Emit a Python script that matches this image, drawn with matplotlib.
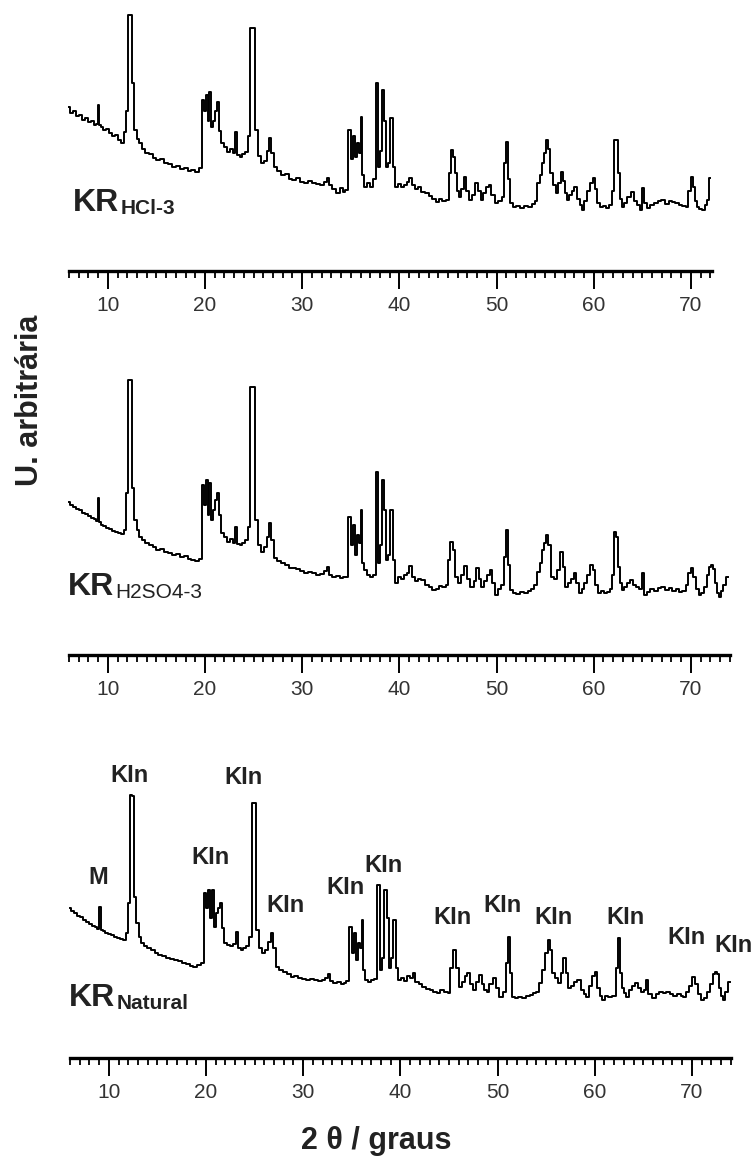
import numpy as np
import matplotlib
matplotlib.use("Agg")
import matplotlib.pyplot as plt
from matplotlib.ticker import MultipleLocator

plt.rcParams['font.family'] = ['Liberation Sans', 'DejaVu Sans']

# Difratogramas (2theta, intensidade em u.a.)
tth_hcl = [6.0, 6.3, 6.6, 6.9, 7.2, 7.5, 7.8, 8.1, 8.4, 8.7, 8.95, 9.05, 9.15, 9.4, 9.7, 10.0, 10.3, 10.6, 10.9, 11.2,
           11.5, 11.8, 12.0, 12.2, 12.4, 12.6, 12.85, 13.1, 13.4, 13.7, 14.0, 14.4, 14.8, 15.2, 15.6, 16.0, 16.4, 16.8,
           17.2, 17.6, 18.0, 18.4, 18.8, 19.2, 19.5, 19.8, 20.0, 20.2, 20.4, 20.5, 20.7, 20.9, 21.1, 21.3, 21.5, 21.8,
           22.1, 22.4, 22.7, 23.0, 23.2, 23.4, 23.7, 24.0, 24.3, 24.55, 24.8, 25.0, 25.25, 25.6, 25.9, 26.2, 26.5, 26.7,
           26.9, 27.2, 27.6, 28.0, 28.4, 28.8, 29.2, 29.6, 30.0, 30.4, 30.8, 31.2, 31.6, 32.0, 32.4, 32.6, 32.9, 33.3,
           33.7, 34.0, 34.3, 34.6, 34.9, 35.1, 35.3, 35.5, 35.7, 35.9, 36.1, 36.3, 36.5, 36.8, 37.1, 37.4, 37.7, 37.9,
           38.1, 38.3, 38.5, 38.7, 38.9, 39.2, 39.5, 39.7, 40.0, 40.3, 40.6, 40.9, 41.1, 41.4, 41.8, 42.1, 42.4, 42.8,
           43.2, 43.6, 43.9, 44.2, 44.6, 45.0, 45.2, 45.4, 45.6, 45.8, 46.0, 46.2, 46.5, 46.7, 47.0, 47.3, 47.6, 48.0,
           48.2, 48.5, 48.8, 49.1, 49.3, 49.6, 50.0, 50.4, 50.7, 50.9, 51.1, 51.3, 51.5, 51.8, 52.2, 52.6, 53.0, 53.4,
           53.8, 54.1, 54.3, 54.6, 54.8, 55.0, 55.2, 55.4, 55.7, 56.0, 56.2, 56.5, 56.7, 56.9, 57.1, 57.3, 57.6, 57.9,
           58.1, 58.4, 58.7, 58.9, 59.2, 59.5, 59.8, 60.0, 60.2, 60.5, 60.8, 61.1, 61.4, 61.7, 62.0, 62.2, 62.4, 62.6,
           62.8, 63.0, 63.3, 63.6, 64.0, 64.3, 64.6, 64.9, 65.1, 65.3, 65.6, 66.0, 66.4, 66.8, 67.1, 67.5, 67.9, 68.2,
           68.6, 68.9, 69.3, 69.6, 69.9, 70.1, 70.3, 70.5, 70.7, 71.0, 71.3, 71.6, 71.8, 72.0]
int_hcl = [164, 158, 160, 155, 156, 151, 153, 149, 150, 146, 147, 166, 146, 144, 141, 142, 138, 135, 136, 131,
           128, 139, 160, 256, 256, 188, 141, 132, 128, 122, 118, 117, 113, 111, 112, 108, 107, 104,
           105, 102, 103, 100, 101, 99, 103, 171, 160, 176, 150, 179, 144, 150, 160, 169, 140, 128,
           124, 119, 122, 118, 139, 116, 114, 117, 119, 135, 243, 243, 141, 115, 108, 110, 120, 133,
           118, 104, 100, 96, 97, 92, 91, 93, 89, 88, 90, 88, 87, 86, 89, 93, 86, 82,
           78, 83, 79, 81, 141, 112, 135, 114, 128, 118, 154, 96, 84, 88, 84, 92, 188, 104,
           120, 181, 150, 104, 108, 153, 104, 84, 87, 84, 86, 89, 93, 86, 82, 84, 79, 78,
           75, 72, 69, 72, 70, 71, 98, 121, 114, 98, 80, 74, 82, 94, 80, 71, 76, 88,
           80, 71, 78, 84, 86, 76, 68, 70, 74, 108, 129, 92, 68, 64, 65, 63, 65, 64,
           67, 70, 88, 96, 108, 118, 131, 122, 98, 86, 78, 88, 99, 90, 78, 71, 76, 80,
           84, 72, 66, 61, 70, 80, 88, 93, 82, 68, 64, 65, 63, 66, 80, 131, 131, 98,
           72, 64, 68, 74, 79, 70, 66, 61, 83, 68, 63, 66, 68, 70, 71, 67, 70, 69,
           68, 66, 65, 64, 80, 94, 84, 70, 64, 62, 61, 66, 71, 93]

tth_h2so4 = [6.0, 6.3, 6.6, 6.9, 7.2, 7.5, 7.8, 8.1, 8.4, 8.7, 8.95, 9.05, 9.15, 9.4, 9.7, 10.0, 10.3, 10.6, 10.9, 11.2,
             11.5, 11.8, 12.0, 12.2, 12.4, 12.6, 12.85, 13.1, 13.4, 13.7, 14.0, 14.4, 14.8, 15.2, 15.6, 16.0, 16.4,
             16.8, 17.2, 17.6, 18.0, 18.4, 18.8, 19.2, 19.5, 19.8, 20.0, 20.2, 20.4, 20.5, 20.7, 20.9, 21.1, 21.3, 21.5,
             21.8, 22.1, 22.4, 22.7, 23.0, 23.2, 23.4, 23.7, 24.0, 24.3, 24.55, 24.8, 25.0, 25.25, 25.6, 25.9, 26.2,
             26.5, 26.7, 26.9, 27.2, 27.6, 28.0, 28.4, 28.8, 29.2, 29.6, 30.0, 30.4, 30.8, 31.2, 31.6, 32.0, 32.4, 32.6,
             32.9, 33.3, 33.7, 34.0, 34.3, 34.6, 34.9, 35.1, 35.3, 35.5, 35.7, 35.9, 36.1, 36.3, 36.5, 36.8, 37.1, 37.4,
             37.7, 37.9, 38.1, 38.3, 38.5, 38.7, 38.9, 39.2, 39.5, 39.7, 40.0, 40.3, 40.6, 40.9, 41.1, 41.4, 41.8, 42.1,
             42.4, 42.8, 43.2, 43.6, 43.9, 44.2, 44.6, 44.9, 45.1, 45.4, 45.6, 45.9, 46.2, 46.5, 46.8, 47.1, 47.5, 47.8,
             48.0, 48.3, 48.6, 48.9, 49.2, 49.4, 49.7, 50.0, 50.3, 50.6, 50.9, 51.1, 51.3, 51.5, 51.8, 52.2, 52.6, 53.0,
             53.4, 53.7, 54.0, 54.3, 54.6, 54.8, 55.0, 55.2, 55.4, 55.8, 56.1, 56.4, 56.7, 56.9, 57.2, 57.5, 57.8, 58.1,
             58.3, 58.6, 58.9, 59.2, 59.5, 59.8, 60.0, 60.3, 60.6, 60.9, 61.2, 61.5, 61.8, 62.0, 62.2, 62.4, 62.6, 62.8,
             63.0, 63.3, 63.6, 63.9, 64.2, 64.5, 64.8, 65.1, 65.3, 65.6, 66.0, 66.4, 66.8, 67.1, 67.5, 67.9, 68.3, 68.6,
             68.9, 69.3, 69.6, 69.9, 70.1, 70.4, 70.7, 70.9, 71.2, 71.5, 71.8, 72.0, 72.2, 72.4, 72.6, 72.8, 73.0, 73.2,
             73.5, 73.8]
int_h2so4 = [153, 150, 148, 146, 145, 142, 141, 139, 137, 136, 134, 157, 133, 130, 129, 127, 126, 124, 123, 122,
             121, 125, 162, 275, 275, 167, 135, 125, 118, 115, 112, 110, 108, 105, 106, 103, 102,
             100, 101, 98, 99, 96, 95, 94, 96, 170, 150, 175, 140, 172, 135, 145, 155, 162, 140,
             122, 118, 113, 116, 112, 128, 111, 110, 112, 115, 128, 268, 268, 135, 110, 103, 108,
             118, 132, 115, 97, 94, 92, 90, 87, 87, 86, 84, 82, 83, 82, 80, 81, 84, 88,
             80, 78, 79, 77, 78, 78, 138, 110, 130, 100, 120, 112, 145, 92, 85, 80, 78, 80,
             183, 92, 110, 175, 145, 95, 100, 145, 95, 72, 78, 76, 80, 82, 89, 78, 74, 76,
             75, 70, 68, 65, 66, 69, 68, 70, 95, 113, 105, 78, 72, 80, 89, 76, 68, 74,
             87, 76, 68, 74, 80, 85, 72, 60, 66, 70, 98, 125, 90, 65, 62, 61, 63, 62,
             64, 66, 70, 83, 92, 105, 112, 120, 110, 78, 76, 85, 103, 88, 68, 72, 76, 82,
             72, 62, 66, 72, 80, 90, 85, 70, 62, 64, 62, 63, 66, 80, 123, 118, 88, 72,
             65, 68, 72, 75, 70, 68, 66, 82, 60, 63, 66, 64, 67, 68, 65, 67, 64, 66,
             63, 64, 70, 82, 87, 78, 66, 60, 62, 68, 80, 88, 90, 86, 72, 62, 58, 64,
             70, 78]

tth_nat = [6.0, 6.3, 6.6, 6.9, 7.2, 7.5, 7.8, 8.1, 8.4, 8.7, 8.95, 9.1, 9.25, 9.5, 9.8, 10.1, 10.4, 10.7, 11.0, 11.3,
           11.6, 11.9, 12.1, 12.3, 12.5, 12.7, 12.95, 13.2, 13.5, 13.8, 14.1, 14.5, 14.9, 15.3, 15.7, 16.1, 16.5,
           16.9, 17.3, 17.7, 18.1, 18.5, 18.9, 19.3, 19.7, 19.9, 20.1, 20.3, 20.5, 20.7, 20.9, 21.1, 21.3, 21.5, 21.7,
           22.0, 22.3, 22.6, 22.9, 23.2, 23.4, 23.7, 24.0, 24.3, 24.6, 24.85, 25.05, 25.3, 25.6, 25.9, 26.2, 26.5,
           26.8, 27.0, 27.3, 27.7, 28.1, 28.5, 28.9, 29.3, 29.7, 30.1, 30.5, 30.9, 31.3, 31.7, 32.1, 32.4, 32.6, 32.9,
           33.3, 33.7, 34.0, 34.3, 34.6, 34.9, 35.1, 35.3, 35.5, 35.7, 35.9, 36.1, 36.3, 36.5, 36.8, 37.1, 37.4, 37.8,
           38.0, 38.2, 38.5, 38.7, 38.9, 39.1, 39.4, 39.6, 39.9, 40.2, 40.5, 40.8, 41.1, 41.4, 41.7, 42.1, 42.4, 42.8,
           43.2, 43.6, 43.9, 44.3, 44.7, 45.0, 45.3, 45.6, 45.9, 46.2, 46.5, 46.8, 47.0, 47.3, 47.6, 47.9, 48.2, 48.5,
           48.8, 49.0, 49.3, 49.7, 50.0, 50.4, 50.7, 51.0, 51.2, 51.4, 51.6, 51.9, 52.3, 52.7, 53.1, 53.5, 53.8, 54.1,
           54.4, 54.8, 55.0, 55.3, 55.5, 55.8, 56.1, 56.4, 56.6, 56.9, 57.1, 57.4, 57.7, 58.0, 58.4, 58.7, 59.0, 59.3,
           59.6, 59.9, 60.1, 60.4, 60.7, 60.9, 61.2, 61.6, 62.0, 62.3, 62.5, 62.7, 62.9, 63.1, 63.4, 63.7, 64.0, 64.3,
           64.6, 64.9, 65.2, 65.4, 65.6, 66.1, 66.5, 66.8, 67.2, 67.5, 67.9, 68.3, 68.7, 69.0, 69.2, 69.6, 69.9, 70.2,
           70.5, 70.8, 71.1, 71.4, 71.7, 72.0, 72.3, 72.5, 72.7, 72.9, 73.1, 73.3, 73.6, 73.9]
int_nat = [150, 147, 145, 142, 141, 138, 136, 134, 132, 131, 129, 151, 128, 127, 125, 124, 123, 121, 120, 119,
           118, 125, 155, 263, 262, 161, 135, 121, 115, 112, 110, 108, 105, 103, 102, 100, 99,
           98, 97, 95, 94, 92, 91, 93, 95, 165, 150, 168, 140, 168, 131, 145, 150, 155, 130,
           115, 113, 112, 114, 126, 110, 108, 110, 112, 121, 255, 255, 128, 110, 105, 108, 116,
           125, 110, 91, 88, 86, 84, 81, 82, 80, 79, 78, 79, 78, 77, 78, 80, 84, 77,
           75, 76, 74, 75, 77, 131, 105, 125, 98, 115, 110, 138, 88, 78, 76, 78, 79, 173,
           88, 100, 168, 140, 90, 100, 138, 90, 78, 80, 77, 82, 80, 85, 76, 74, 71, 69,
           68, 66, 65, 68, 66, 65, 90, 108, 90, 71, 76, 82, 85, 74, 68, 76, 83, 74,
           68, 66, 74, 80, 70, 61, 66, 95, 121, 85, 61, 60, 61, 60, 62, 63, 65, 66,
           75, 88, 105, 118, 108, 85, 80, 75, 85, 100, 85, 70, 72, 76, 78, 68, 64, 61,
           72, 82, 86, 70, 62, 58, 62, 61, 62, 90, 120, 85, 70, 65, 61, 68, 72, 75,
           70, 66, 68, 78, 64, 60, 64, 66, 65, 66, 64, 62, 64, 62, 61, 66, 72, 81,
           74, 64, 58, 60, 66, 74, 84, 86, 84, 70, 62, 58, 66, 76]

sample_names = ['KR', 'KR', 'KR']
sample_subs = ['HCl-3', 'H2SO4-3', 'Natural']

# Identificação das fases no difratograma natural (posição, altura do rótulo)
phase_labels = ['M', 'KIn', 'KIn', 'KIn', 'KIn', 'KIn', 'KIn', 'KIn', 'KIn', 'KIn', 'KIn', 'KIn', 'KIn']
phase_tth = [8.9, 12.1, 23.9, 20.5, 28.2, 34.4, 38.3, 45.4, 50.5, 55.8, 63.2, 69.4, 74.3]
phase_h = [180, 283, 280, 200, 153, 171, 193, 140, 153, 140, 141, 120, 113]

W, H = 756, 1159
PX_DEG = 9.717          # pixels por grau

fig = plt.figure(figsize=(W / 100, H / 100), dpi=100)

# (2theta, intensidade, limite x, base do eixo em px, altura em px, esquerda em px, peso do subscrito, pos. do rótulo)
panels = [
    (tth_hcl, int_hcl, 72.2, 271, 265, 69, 'bold', (6.4, 53)),
    (tth_h2so4, int_h2so4, 74.0, 655, 290, 69, 'normal', (5.9, 53)),
    (tth_nat, int_nat, 74.0, 1058, 300, 70, 'bold', (5.9, 45)),
]

axes = []
for i, (tth, inten, xmax, base_px, h_px, left_px, subw, kr_pos) in enumerate(panels):
    w_px = (xmax - 6) * PX_DEG
    ax = fig.add_axes([left_px / W, 1 - base_px / H, w_px / W, h_px / H])
    ax.plot(tth, inten, color='black', lw=1.4, drawstyle='steps-mid', clip_on=False)
    ax.set_xlim(6, xmax)
    ax.set_ylim(0, h_px)
    for s in ['top', 'left', 'right']:
        ax.spines[s].set_visible(False)
    ax.spines['bottom'].set_linewidth(2.4)
    ax.set_yticks([])
    ax.set_xticks(np.arange(10, 80, 10))
    ax.xaxis.set_minor_locator(MultipleLocator(1))
    ax.tick_params(axis='x', which='major', direction='out', length=13, width=1.4,
                   labelsize=15, labelcolor='#333333', pad=5)
    ax.tick_params(axis='x', which='minor', direction='out', length=5, width=1.3)
    ax.patch.set_alpha(0)

    kr = ax.text(kr_pos[0], kr_pos[1], sample_names[i], fontsize=23, fontweight='bold',
                 color='#222222', ha='left', va='bottom')
    ax.annotate(sample_subs[i], xy=(1, 0), xycoords=kr, xytext=(1, 0), textcoords='offset points',
                fontsize=15, fontweight=subw, color='#222222', ha='left', va='bottom')
    axes.append(ax)

ax3 = axes[2]
for lab, x, y in zip(phase_labels, phase_tth, phase_h):
    ax3.text(x, y, lab, fontsize=17, fontweight='bold', color='#222222',
             ha='center', va='center', clip_on=False)

fig.text(30 / W, 1 - 400 / H, 'U. arbitrária', rotation=90, fontsize=22, fontweight='bold',
         color='#222222', ha='center', va='center')
fig.text(376 / W, 1 - 1141 / H, '2 θ / graus', fontsize=22, fontweight='bold',
         color='#222222', ha='center', va='center')

fig.savefig('out.png', dpi=100)
